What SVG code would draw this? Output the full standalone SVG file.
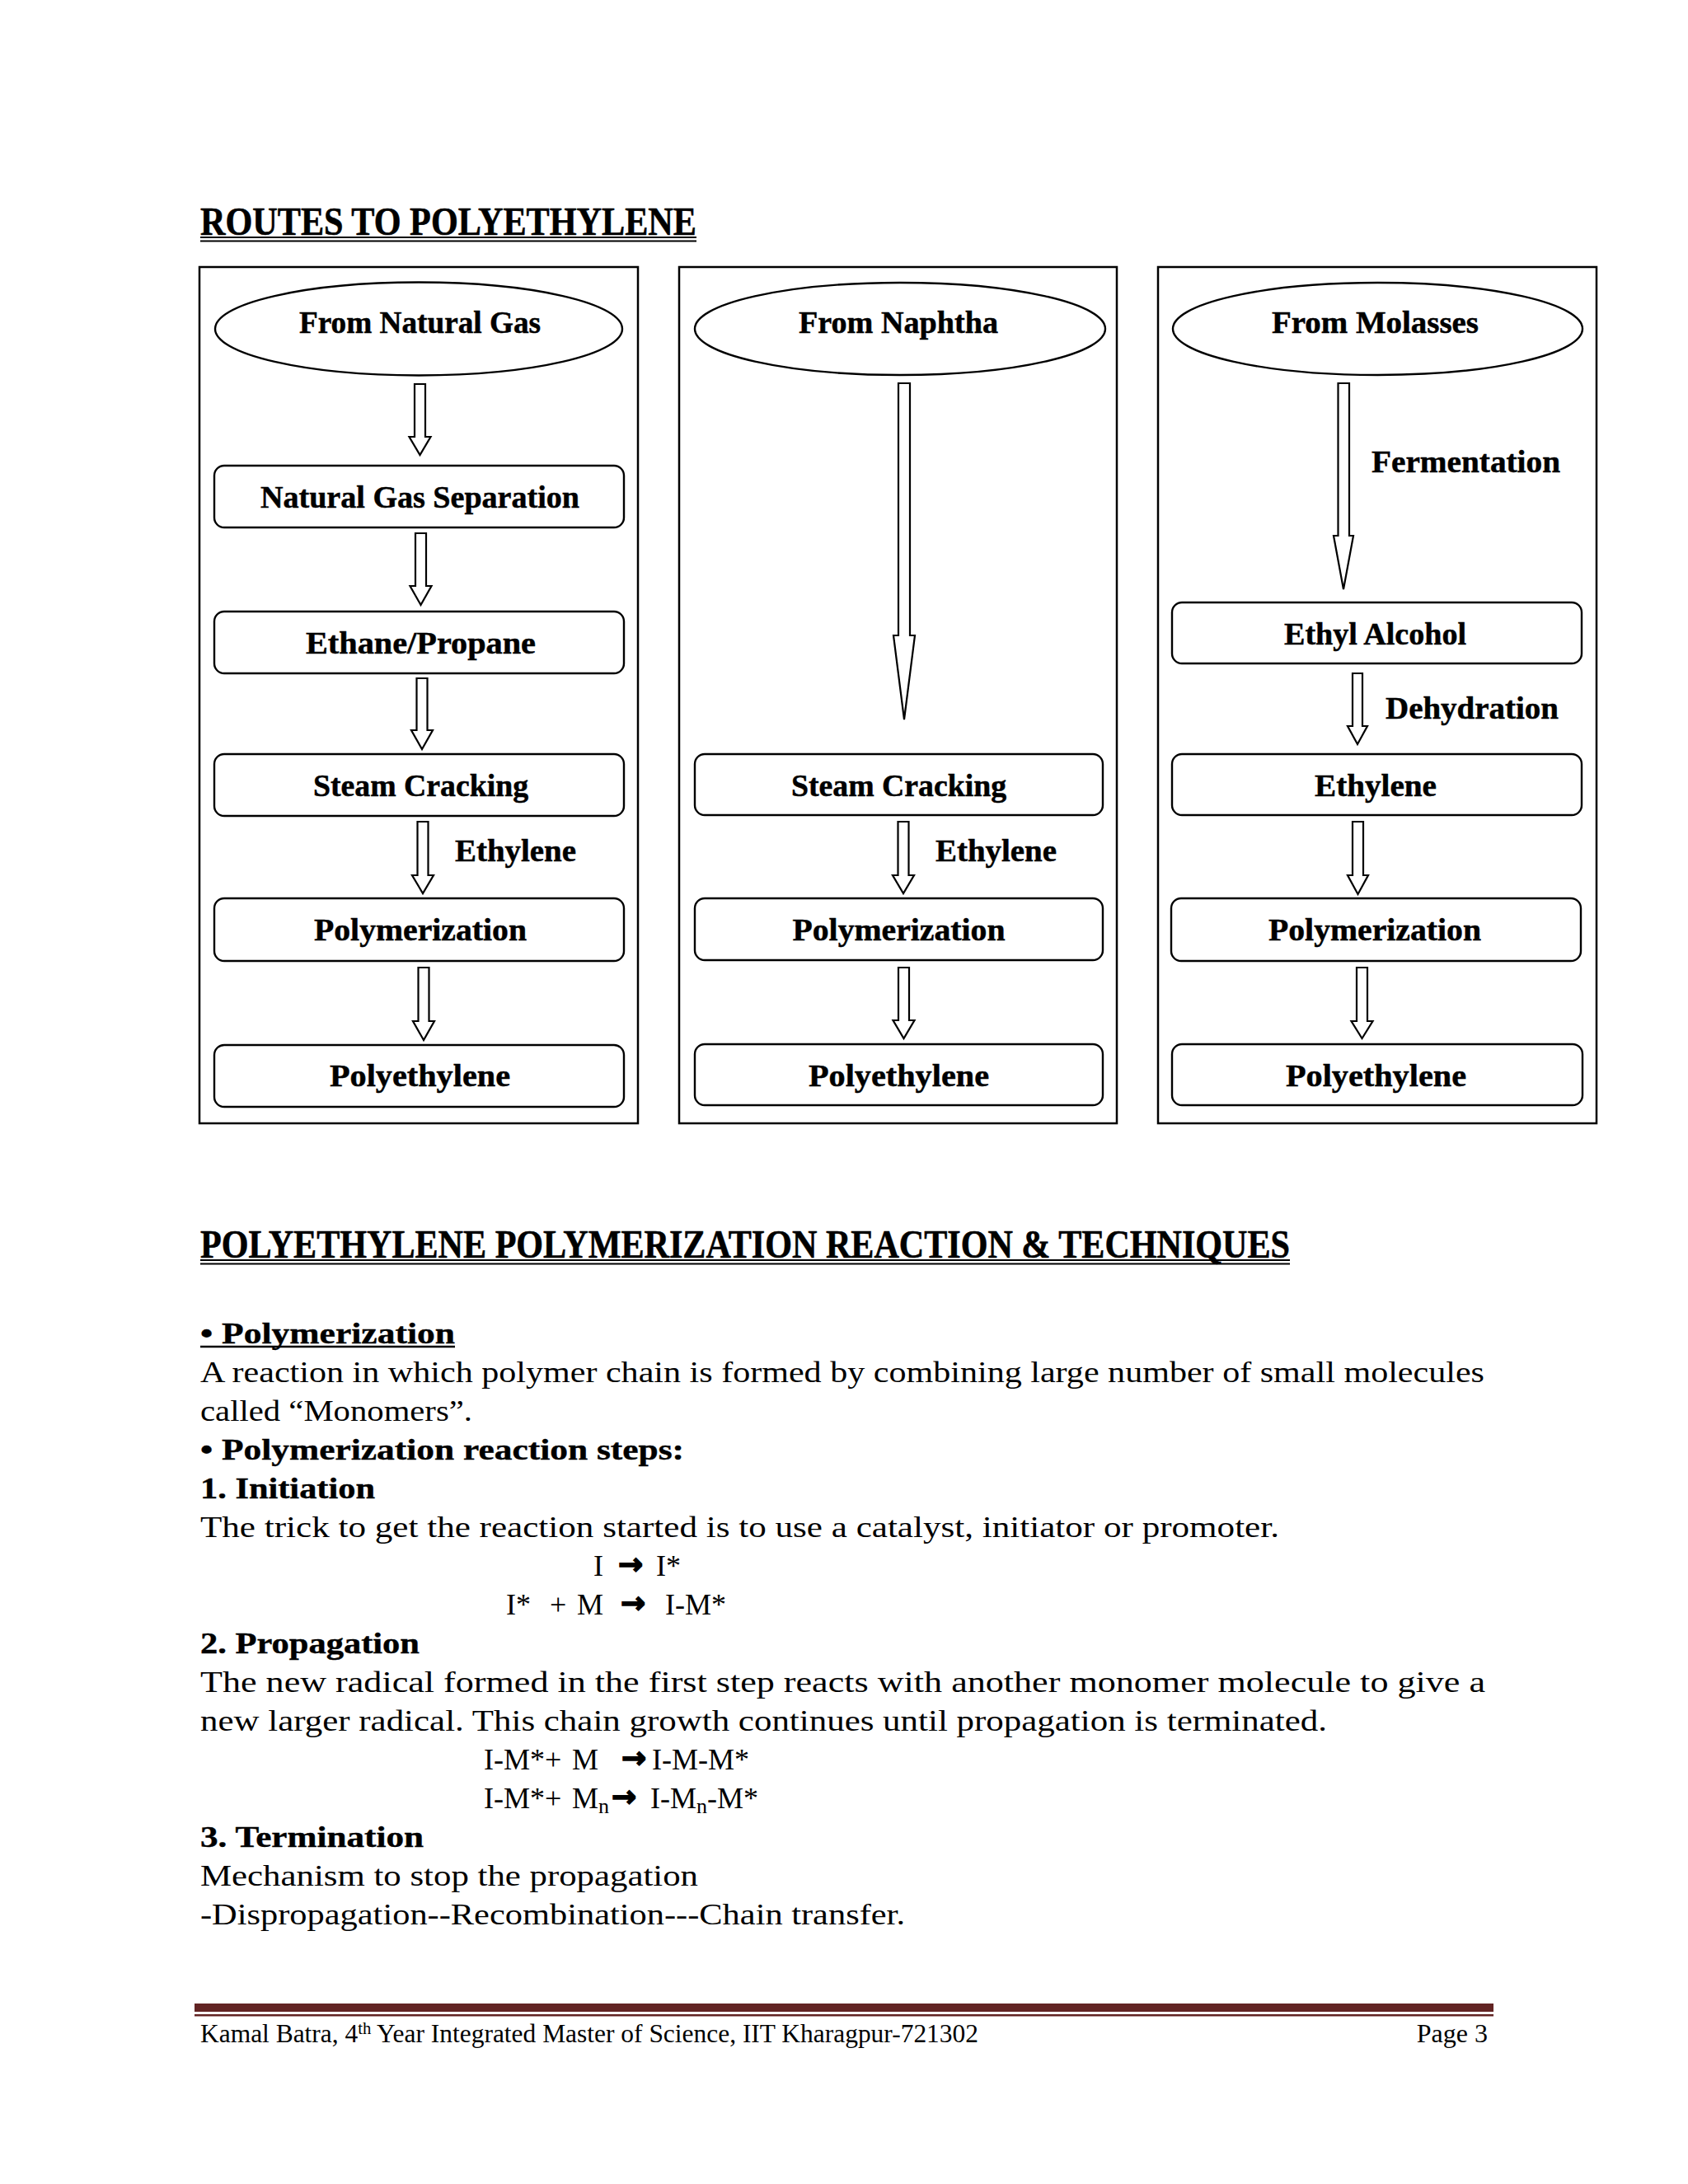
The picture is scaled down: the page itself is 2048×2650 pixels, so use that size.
<svg xmlns="http://www.w3.org/2000/svg" width="2048" height="2650" viewBox="0 0 2048 2650">
<style>
.bg{fill:#ffffff}
.frame{fill:none;stroke:#000;stroke-width:2.5}
.node{fill:#fff;stroke:#000;stroke-width:2.4}
.arr{fill:#fff;stroke:#000;stroke-width:2.2;stroke-linejoin:miter}
.lbl{font-family:"Liberation Serif","Times New Roman",serif;font-weight:bold;font-size:38px;fill:#000;stroke:#000;stroke-width:0.5}
.ttl{font-family:"Liberation Serif","Times New Roman",serif;font-weight:bold;font-size:48px;fill:#000;stroke:#000;stroke-width:0.6}
.body{font-family:"Liberation Serif","Times New Roman",serif;font-size:36px;fill:#000}
.bodyb{font-family:"Liberation Serif","Times New Roman",serif;font-weight:bold;font-size:36px;fill:#000;stroke:#000;stroke-width:0.4}
.ar{font-family:"DejaVu Sans",sans-serif;font-weight:bold;font-size:36px;fill:#000;stroke:#000;stroke-width:1.6}
.foot{font-family:"Liberation Serif","Times New Roman",serif;font-size:32px;fill:#000}
.ul{stroke:#000;fill:none}
</style>
<rect class="bg" x="0" y="0" width="2048" height="2650"/>

<g id="title1">
<text class="ttl" x="243" y="285" textLength="602" lengthAdjust="spacingAndGlyphs">ROUTES TO POLYETHYLENE</text>
<line class="ul" x1="243" y1="288" x2="845" y2="288" stroke-width="1.8"/>
<line class="ul" x1="243" y1="292.5" x2="845" y2="292.5" stroke-width="1.8"/>
</g>

<g id="containers">
<rect class="frame" x="242" y="324" width="532" height="1039"/>
<rect class="frame" x="824" y="324" width="531" height="1039"/>
<rect class="frame" x="1405" y="324" width="532" height="1039"/>
</g>

<g id="connectors">
<path class="arr" d="M503,466 L516,466 L516,530 L522.5,530 L509.5,552 L496.5,530 L503,530 Z"/>
<path class="arr" d="M504,647 L517,647 L517,711 L523.5,711 L510.5,734 L497.5,711 L504,711 Z"/>
<path class="arr" d="M505.5,823 L518.5,823 L518.5,886 L525,886 L512,909 L499,886 L505.5,886 Z"/>
<path class="arr" d="M506.5,997 L519.5,997 L519.5,1062 L526,1062 L513,1084 L500,1062 L506.5,1062 Z"/>
<path class="arr" d="M507.5,1174 L520.5,1174 L520.5,1239 L527,1239 L514,1262 L501,1239 L507.5,1239 Z"/>
<path class="arr" d="M1090,465 L1104,465 L1104,771 L1110,771 L1097,873 L1084,771 L1090,771 Z"/>
<path class="arr" d="M1089.5,997 L1102.5,997 L1102.5,1062 L1109,1062 L1096,1084 L1083,1062 L1089.5,1062 Z"/>
<path class="arr" d="M1090,1174 L1103,1174 L1103,1238 L1109.5,1238 L1096.5,1260 L1083.5,1238 L1090,1238 Z"/>
<path class="arr" d="M1623.5,465 L1637,465 L1637,650 L1642,650 L1630,715 L1618,650 L1623.5,650 Z"/>
<path class="arr" d="M1641,817 L1653,817 L1653,881 L1659,881 L1647,903 L1635,881 L1641,881 Z"/>
<path class="arr" d="M1641,997 L1654,997 L1654,1062 L1660,1062 L1647.5,1085 L1635,1062 L1641,1062 Z"/>
<path class="arr" d="M1646,1174 L1659,1174 L1659,1239 L1665.5,1239 L1652.5,1260 L1639.5,1239 L1646,1239 Z"/>
</g>

<g id="col1-natural-gas">
<ellipse class="node" cx="508" cy="399" rx="247" ry="56.5"/>
<text class="lbl" x="509.5" y="404" text-anchor="middle" textLength="293" lengthAdjust="spacingAndGlyphs">From Natural Gas</text>
</g>
<g id="col1-separation">
<rect class="node" x="260" y="565" width="497" height="75" rx="12"/>
<text class="lbl" x="509.5" y="616" text-anchor="middle" textLength="387" lengthAdjust="spacingAndGlyphs">Natural Gas Separation</text>
</g>
<g id="col1-ethane">
<rect class="node" x="260" y="742" width="497" height="75" rx="12"/>
<text class="lbl" x="510.5" y="793" text-anchor="middle" textLength="279" lengthAdjust="spacingAndGlyphs">Ethane/Propane</text>
</g>
<g id="col1-steam">
<rect class="node" x="260" y="915" width="497" height="75" rx="12"/>
<text class="lbl" x="510.5" y="966" text-anchor="middle" textLength="261" lengthAdjust="spacingAndGlyphs">Steam Cracking</text>
</g>
<g id="col1-ethylene-label">
<text class="lbl" x="552" y="1045" textLength="147" lengthAdjust="spacingAndGlyphs">Ethylene</text>
</g>
<g id="col1-polymerization">
<rect class="node" x="260" y="1090" width="497" height="76" rx="12"/>
<text class="lbl" x="510" y="1141" text-anchor="middle" textLength="258" lengthAdjust="spacingAndGlyphs">Polymerization</text>
</g>
<g id="col1-polyethylene">
<rect class="node" x="260" y="1268" width="497" height="75" rx="12"/>
<text class="lbl" x="509.5" y="1318" text-anchor="middle" textLength="219" lengthAdjust="spacingAndGlyphs">Polyethylene</text>
</g>

<g id="col2-naphtha">
<ellipse class="node" cx="1092" cy="399" rx="249" ry="56"/>
<text class="lbl" x="1090" y="404" text-anchor="middle" textLength="242" lengthAdjust="spacingAndGlyphs">From Naphtha</text>
</g>
<g id="col2-steam">
<rect class="node" x="843" y="915" width="495" height="74" rx="12"/>
<text class="lbl" x="1090.5" y="966" text-anchor="middle" textLength="261" lengthAdjust="spacingAndGlyphs">Steam Cracking</text>
</g>
<g id="col2-ethylene-label">
<text class="lbl" x="1135" y="1045" textLength="147" lengthAdjust="spacingAndGlyphs">Ethylene</text>
</g>
<g id="col2-polymerization">
<rect class="node" x="843" y="1090" width="495" height="75" rx="12"/>
<text class="lbl" x="1090.5" y="1141" text-anchor="middle" textLength="258" lengthAdjust="spacingAndGlyphs">Polymerization</text>
</g>
<g id="col2-polyethylene">
<rect class="node" x="843" y="1267" width="495" height="74" rx="12"/>
<text class="lbl" x="1090.5" y="1318" text-anchor="middle" textLength="219" lengthAdjust="spacingAndGlyphs">Polyethylene</text>
</g>

<g id="col3-molasses">
<ellipse class="node" cx="1671.5" cy="399" rx="248.5" ry="56"/>
<text class="lbl" x="1668.5" y="404" text-anchor="middle" textLength="251" lengthAdjust="spacingAndGlyphs">From Molasses</text>
</g>
<g id="col3-fermentation-label">
<text class="lbl" x="1664" y="573" textLength="229" lengthAdjust="spacingAndGlyphs">Fermentation</text>
</g>
<g id="col3-ethyl-alcohol">
<rect class="node" x="1422" y="731" width="497" height="74" rx="12"/>
<text class="lbl" x="1668.5" y="782" text-anchor="middle" textLength="221" lengthAdjust="spacingAndGlyphs">Ethyl Alcohol</text>
</g>
<g id="col3-dehydration-label">
<text class="lbl" x="1681" y="872" textLength="210" lengthAdjust="spacingAndGlyphs">Dehydration</text>
</g>
<g id="col3-ethylene">
<rect class="node" x="1422" y="915" width="497" height="74" rx="12"/>
<text class="lbl" x="1669" y="966" text-anchor="middle" textLength="148" lengthAdjust="spacingAndGlyphs">Ethylene</text>
</g>
<g id="col3-polymerization">
<rect class="node" x="1421" y="1090" width="497" height="76" rx="12"/>
<text class="lbl" x="1668" y="1141" text-anchor="middle" textLength="258" lengthAdjust="spacingAndGlyphs">Polymerization</text>
</g>
<g id="col3-polyethylene">
<rect class="node" x="1422" y="1267" width="498" height="74" rx="12"/>
<text class="lbl" x="1669.5" y="1318" text-anchor="middle" textLength="219" lengthAdjust="spacingAndGlyphs">Polyethylene</text>
</g>

<g id="section2">
<text class="ttl" x="243" y="1526" font-size="47" textLength="1322" lengthAdjust="spacingAndGlyphs">POLYETHYLENE POLYMERIZATION REACTION &amp; TECHNIQUES</text>
<line class="ul" x1="243" y1="1529" x2="1565" y2="1529" stroke-width="1.8"/>
<line class="ul" x1="243" y1="1533.5" x2="1565" y2="1533.5" stroke-width="1.8"/>

<text class="bodyb" x="243" y="1630" textLength="309" lengthAdjust="spacingAndGlyphs">• Polymerization</text>
<line class="ul" x1="243" y1="1634" x2="552" y2="1634" stroke-width="2.6"/>
<text class="body" x="243" y="1677" textLength="1558" lengthAdjust="spacingAndGlyphs">A reaction in which polymer chain is formed by combining large number of small molecules</text>
<text class="body" x="243" y="1724" textLength="330" lengthAdjust="spacingAndGlyphs">called “Monomers”.</text>
<text class="bodyb" x="243" y="1771" textLength="587" lengthAdjust="spacingAndGlyphs">• Polymerization reaction steps:</text>
<text class="bodyb" x="243" y="1818" textLength="212" lengthAdjust="spacingAndGlyphs">1. Initiation</text>
<text class="body" x="243" y="1865" textLength="1309" lengthAdjust="spacingAndGlyphs">The trick to get the reaction started is to use a catalyst, initiator or promoter.</text>

<text class="body" x="720" y="1912">I</text>
<text class="ar" x="750" y="1910">→</text>
<text class="body" x="796" y="1912">I*</text>

<text class="body" x="614" y="1959">I*</text>
<text class="body" x="667" y="1959">+</text>
<text class="body" x="700" y="1959">M</text>
<text class="ar" x="753" y="1957">→</text>
<text class="body" x="807" y="1959">I-M*</text>

<text class="bodyb" x="243" y="2006" textLength="266" lengthAdjust="spacingAndGlyphs">2. Propagation</text>
<text class="body" x="243" y="2053" textLength="1559" lengthAdjust="spacingAndGlyphs">The new radical formed in the first step reacts with another monomer molecule to give a</text>
<text class="body" x="243" y="2100" textLength="1367" lengthAdjust="spacingAndGlyphs">new larger radical. This chain growth continues until propagation is terminated.</text>

<text class="body" x="587" y="2147">I-M*+</text>
<text class="body" x="694" y="2147">M</text>
<text class="ar" x="754" y="2145">→</text>
<text class="body" x="791" y="2147">I-M-M*</text>

<text class="body" x="587" y="2194">I-M*+</text>
<text class="body" x="694" y="2194">M<tspan font-size="26" dy="6">n</tspan></text>
<text class="ar" x="742" y="2192">→</text>
<text class="body" x="789" y="2194">I-M<tspan font-size="26" dy="6">n</tspan><tspan dy="-6">-M*</tspan></text>

<text class="bodyb" x="243" y="2241" textLength="271" lengthAdjust="spacingAndGlyphs">3. Termination</text>
<text class="body" x="243" y="2288" textLength="604" lengthAdjust="spacingAndGlyphs">Mechanism to stop the propagation</text>
<text class="body" x="243" y="2335" textLength="855" lengthAdjust="spacingAndGlyphs">-Dispropagation--Recombination---Chain transfer.</text>
</g>

<g id="footer">
<rect x="236" y="2431" width="1576" height="10" fill="#622423"/>
<rect x="236" y="2444" width="1576" height="2.5" fill="#622423"/>
<text class="foot" x="243" y="2478" textLength="944" lengthAdjust="spacingAndGlyphs">Kamal Batra, 4<tspan font-size="21" dy="-10">th</tspan><tspan dy="10"> Year Integrated Master of Science, IIT Kharagpur-721302</tspan></text>
<text class="foot" x="1805" y="2478" text-anchor="end">Page 3</text>
</g>
</svg>
